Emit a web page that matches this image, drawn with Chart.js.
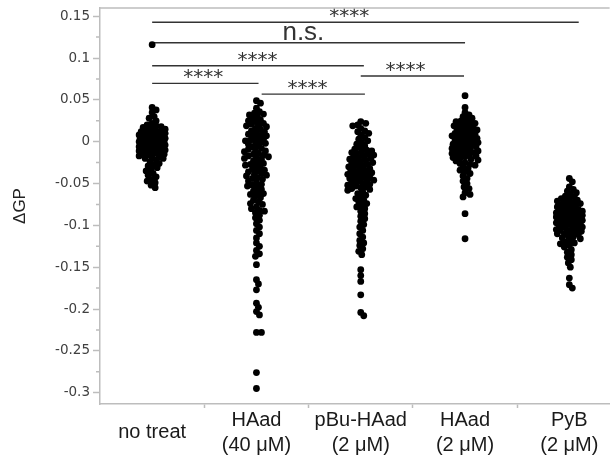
<!DOCTYPE html>
<html>
<head>
<meta charset="utf-8">
<script src="https://cdn.jsdelivr.net/npm/chart.js@4/dist/chart.umd.min.js"></script>
<style>
  html, body { margin: 0; padding: 0; background: #fff; }
  #wrap { width: 613px; height: 461px; }
</style>
</head>
<body>
<div id="wrap"><canvas id="gpChart" width="613" height="461"></canvas></div>
<script>
// categories and tick labels
const categories = [
    "no treat",
    ["HAad", "(40 μM)"],
    ["pBu-HAad", "(2 μM)"],
    ["HAad", "(2 μM)"],
    ["PyB", "(2 μM)"]
];
const yTickValues = [0.15, 0.1, 0.05, 0, -0.05, -0.1, -0.15, -0.2, -0.25, -0.3];
const yTickLabels = ["0.15", "0.1", "0.05", "0", "-0.05", "-0.1", "-0.15", "-0.2", "-0.25", "-0.3"];

// ΔGP per cell
const noTreat = [
    0.116, 0.041, 0.038, 0.035, 0.030, 0.028, 0.025, 0.022, 0.020, 0.019, 0.018, 0.017, 0.016,
    0.015, 0.014, 0.013, 0.012, 0.012, 0.011, 0.010, 0.010, 0.009, 0.008, 0.008, 0.007, 0.006,
    0.006, 0.005, 0.005, 0.004, 0.004, 0.003, 0.003, 0.002, 0.002, 0.001, 0.000, 0.000, -0.001,
    -0.001, -0.002, -0.002, -0.003, -0.003, -0.004, -0.005, -0.005, -0.006, -0.006, -0.007,
    -0.008, -0.008, -0.009, -0.010, -0.011, -0.011, -0.012, -0.013, -0.014, -0.015, -0.015,
    -0.016, -0.017, -0.018, -0.019, -0.020, -0.020, -0.022, -0.024, -0.026, -0.028, -0.029,
    -0.031, -0.033, -0.035, -0.038, -0.040, -0.042, -0.045, -0.047, -0.049, -0.052, -0.055
];
const haad40 = [
    0.049, 0.046, 0.040, 0.036, 0.034, 0.033, 0.032, 0.030, 0.028, 0.026, 0.025, 0.024, 0.022,
    0.021, 0.020, 0.019, 0.018, 0.016, 0.015, 0.013, 0.012, 0.010, 0.009, 0.008, 0.007, 0.006,
    0.004, 0.003, 0.002, 0.001, 0.000, -0.001, -0.002, -0.003, -0.005, -0.006, -0.008, -0.009,
    -0.010, -0.011, -0.012, -0.014, -0.015, -0.016, -0.017, -0.018, -0.019, -0.020, -0.021,
    -0.023, -0.025, -0.026, -0.027, -0.028, -0.029, -0.031, -0.033, -0.034, -0.035, -0.036,
    -0.038, -0.039, -0.040, -0.041, -0.043, -0.044, -0.045, -0.047, -0.049, -0.051, -0.052,
    -0.053, -0.055, -0.057, -0.059, -0.061, -0.062, -0.063, -0.065, -0.067, -0.070, -0.072,
    -0.074, -0.075, -0.078, -0.080, -0.082, -0.083, -0.085, -0.088, -0.091, -0.094, -0.098,
    -0.102, -0.106, -0.110, -0.115, -0.121, -0.125, -0.130, -0.134, -0.137, -0.147, -0.165,
    -0.170, -0.177, -0.193, -0.198, -0.203, -0.207, -0.228, -0.228, -0.276, -0.295
];
const pbuHaad2 = [
    0.024, 0.022, 0.020, 0.019, 0.016, 0.013, 0.012, 0.010, 0.008, 0.005, 0.003, 0.001, -0.001,
    -0.003, -0.005, -0.007, -0.009, -0.010, -0.011, -0.012, -0.013, -0.014, -0.015, -0.016,
    -0.017, -0.018, -0.019, -0.020, -0.021, -0.022, -0.023, -0.024, -0.025, -0.026, -0.027,
    -0.028, -0.029, -0.030, -0.031, -0.032, -0.033, -0.034, -0.035, -0.036, -0.037, -0.038,
    -0.038, -0.039, -0.040, -0.041, -0.042, -0.043, -0.044, -0.045, -0.045, -0.046, -0.047,
    -0.048, -0.049, -0.050, -0.051, -0.052, -0.053, -0.054, -0.055, -0.056, -0.057, -0.058,
    -0.060, -0.062, -0.064, -0.066, -0.068, -0.070, -0.072, -0.074, -0.076, -0.078, -0.080,
    -0.083, -0.086, -0.089, -0.092, -0.095, -0.099, -0.102, -0.106, -0.110, -0.114, -0.118,
    -0.121, -0.124, -0.128, -0.131, -0.135, -0.153, -0.160, -0.167, -0.183, -0.204, -0.208
];
const haad2 = [
    0.055, 0.041, 0.035, 0.032, 0.030, 0.028, 0.026, 0.025, 0.024, 0.023, 0.022, 0.021, 0.020,
    0.019, 0.018, 0.017, 0.016, 0.015, 0.014, 0.013, 0.012, 0.011, 0.010, 0.009, 0.008, 0.008,
    0.007, 0.006, 0.005, 0.004, 0.003, 0.003, 0.002, 0.001, 0.000, -0.001, -0.001, -0.002,
    -0.003, -0.004, -0.004, -0.005, -0.006, -0.006, -0.007, -0.008, -0.009, -0.010, -0.011,
    -0.011, -0.012, -0.013, -0.014, -0.015, -0.016, -0.016, -0.017, -0.018, -0.019, -0.020,
    -0.021, -0.022, -0.023, -0.025, -0.026, -0.027, -0.028, -0.030, -0.032, -0.034, -0.036,
    -0.038, -0.041, -0.044, -0.047, -0.050, -0.054, -0.056, -0.061, -0.063, -0.066, -0.086,
    -0.116
];
const pyb2 = [
    -0.044, -0.048, -0.054, -0.057, -0.059, -0.061, -0.063, -0.065, -0.066, -0.068, -0.069,
    -0.070, -0.071, -0.072, -0.073, -0.074, -0.075, -0.076, -0.077, -0.078, -0.079, -0.080,
    -0.081, -0.082, -0.083, -0.083, -0.084, -0.085, -0.085, -0.086, -0.087, -0.088, -0.088,
    -0.089, -0.090, -0.090, -0.091, -0.092, -0.093, -0.094, -0.094, -0.095, -0.095, -0.096,
    -0.097, -0.098, -0.098, -0.099, -0.100, -0.100, -0.101, -0.102, -0.102, -0.103, -0.104,
    -0.105, -0.106, -0.106, -0.107, -0.108, -0.109, -0.110, -0.110, -0.111, -0.113, -0.114,
    -0.115, -0.116, -0.118, -0.120, -0.121, -0.122, -0.124, -0.126, -0.129, -0.132, -0.135,
    -0.138, -0.141, -0.145, -0.150, -0.163, -0.171, -0.175
];
const groups = [noTreat, haad40, pbuHaad2, haad2, pyb2];

// significance brackets: from / to category, level on the ΔGP axis, label and where it sits
const bracketFrom = [0, 0, 0, 0, 1.05, 2];
const bracketTo = [4.09, 3, 2.03, 1.02, 2.04, 2.99];
const bracketLevel = [0.1427, 0.1183, 0.0908, 0.0697, 0.0569, 0.0785];
const bracketText = ["****", "n.s.", "****", "****", "****", "****"];
const bracketTextAt = [1.89, 1.45, 1.01, 0.49, 1.49, 2.43];

const AXIS_GREY = "#bdbdbd";

const bracketLabels = {
    id: "bracketLabels",
    afterDatasetsDraw(chart) {
        const { ctx, scales: { x, y } } = chart;
        ctx.save();
        ctx.fillStyle = "#333";
        ctx.textAlign = "center";
        ctx.textBaseline = "alphabetic";
        bracketText.forEach((t, i) => {
            const px = x.getPixelForValue(bracketTextAt[i]);
            const py = y.getPixelForValue(bracketLevel[i]);
            if (t === "n.s.") {
                ctx.font = "26px 'Liberation Sans', Arial, sans-serif";
                ctx.fillText(t, px, py - 3);
            } else {
                ctx.font = "20px 'DejaVu Sans', sans-serif";
                ctx.fillText(t, px, py);
            }
        });
        ctx.restore();
    }
};

const frame = {
    id: "frame",
    afterDraw(chart) {
        const { ctx, chartArea, scales: { y } } = chart;
        ctx.save();
        ctx.strokeStyle = AXIS_GREY;
        ctx.lineWidth = 1.5;
        // top border
        ctx.beginPath();
        ctx.moveTo(chartArea.left, chartArea.top);
        ctx.lineTo(chartArea.right, chartArea.top);
        ctx.stroke();
        // minor ticks half way between labelled ones
        ctx.beginPath();
        for (let i = 0; i < yTickValues.length - 1; i++) {
            const py = y.getPixelForValue((yTickValues[i] + yTickValues[i + 1]) / 2);
            ctx.moveTo(chartArea.left - 4, py);
            ctx.lineTo(chartArea.left, py);
        }
        ctx.stroke();
        ctx.restore();
    }
};

const bracketSets = bracketLevel.map((lv, i) => ({
    type: "line",
    data: [{ x: bracketFrom[i], y: lv }, { x: bracketTo[i], y: lv }],
    borderColor: "#333",
    borderWidth: 1.4,
    pointRadius: 0,
    order: 2
}));

const pointSets = groups.map(g => ({
    type: "scatter",
    data: g.map(v => ({ x: 0, y: v })),
    backgroundColor: "#000",
    borderColor: "#000",
    borderWidth: 0,
    pointRadius: 3.4,
    pointHoverRadius: 3.4,
    order: 1
}));

const chart = new Chart(document.getElementById("gpChart"), {
    type: "scatter",
    data: { datasets: [...bracketSets, ...pointSets] },
    options: {
        responsive: false,
        animation: false,
        layout: { padding: { top: 8, right: 0, bottom: 0, left: 0 } },
        plugins: {
            legend: { display: false },
            tooltip: { enabled: false }
        },
        scales: {
            x: {
                type: "linear",
                min: -0.5,
                max: 4.386,
                afterFit(scale) {
                    scale.height = 57;
                    scale.paddingLeft = 0;
                    scale.paddingRight = 0;
                },
                afterBuildTicks(scale) {
                    const t = [];
                    categories.forEach((c, i) => {
                        t.push({ value: i });
                        if (i < categories.length - 1) t.push({ value: i + 0.5 });
                    });
                    scale.ticks = t;
                },
                border: { color: AXIS_GREY, width: 1.5 },
                grid: {
                    drawOnChartArea: false,
                    tickLength: 4,
                    tickWidth: 1.5,
                    tickColor: c => (c.tick && Number.isInteger(c.tick.value)) ? "rgba(0,0,0,0)" : AXIS_GREY
                },
                ticks: {
                    autoSkip: false,
                    maxRotation: 0,
                    padding: 12,
                    crossAlign: "center",
                    color: "#1a1a1a",
                    font: { family: "'Liberation Sans', Arial, sans-serif", size: 20, lineHeight: 1.25 },
                    callback: value => Number.isInteger(value) ? categories[value] : ""
                }
            },
            y: {
                min: -0.3135,
                max: 0.1598,
                afterFit(scale) {
                    scale.width = 100;
                    scale.paddingTop = 0;
                    scale.paddingBottom = 0;
                },
                afterBuildTicks(scale) {
                    scale.ticks = yTickValues.map(v => ({ value: v }));
                },
                border: { color: AXIS_GREY, width: 1.5 },
                grid: {
                    drawOnChartArea: false,
                    tickLength: 7,
                    tickWidth: 1.5,
                    tickColor: AXIS_GREY
                },
                ticks: {
                    padding: 3,
                    color: "#404040",
                    font: { family: "'DejaVu Sans', sans-serif", size: 13.5 },
                    callback: value => {
                        const k = yTickValues.findIndex(v => Math.abs(v - value) < 1e-9);
                        return k >= 0 ? yTickLabels[k] : "";
                    }
                },
                title: {
                    display: true,
                    text: "ΔGP",
                    color: "#222",
                    padding: { top: 10, bottom: 0 },
                    font: { family: "'Liberation Sans', Arial, sans-serif", size: 17 }
                }
            }
        }
    },
    plugins: [bracketLabels, frame]
});

// spread each group sideways like a swarm so overlapping dots stay visible
function swarm(values, cat) {
    const xs = chart.scales.x, ys = chart.scales.y;
    const pxPerCat = xs.getPixelForValue(1) - xs.getPixelForValue(0);
    const MIN_GAP = 4.4, HALF_WIDTH = 13;
    const order = values.map((v, i) => i).sort((a, b) => values[b] - values[a]);
    const placed = [];
    const out = new Array(values.length);
    order.forEach(i => {
        const py = ys.getPixelForValue(values[i]);
        let best = 0, bestGap = -1;
        for (let k = 0; k <= HALF_WIDTH * 2; k++) {
            const off = (k % 2 ? 1 : -1) * Math.ceil(k / 2);
            let gap = Infinity;
            for (const p of placed) {
                if (Math.abs(p.y - py) > MIN_GAP) continue;
                gap = Math.min(gap, Math.hypot(p.x - off, p.y - py));
            }
            if (gap >= MIN_GAP) { best = off; break; }
            if (gap > bestGap) { bestGap = gap; best = off; }
        }
        placed.push({ x: best, y: py });
        out[i] = { x: cat + best / pxPerCat, y: values[i] };
    });
    return out;
}

groups.forEach((g, i) => {
    chart.data.datasets[bracketSets.length + i].data = swarm(g, i);
});
chart.update();
</script>
</body>
</html>
